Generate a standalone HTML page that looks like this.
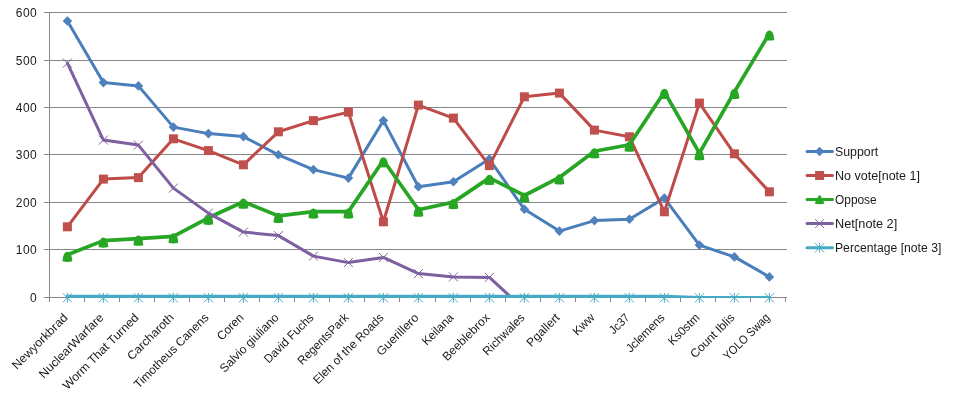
<!DOCTYPE html>
<html lang="en"><head><meta charset="utf-8"><title>Chart</title>
<style>html,body{margin:0;padding:0;background:#fff}svg{display:block}text{font-family:"Liberation Sans",sans-serif;font-size:12px;fill:#1a1a1a}</style>
</head><body>
<svg width="958" height="400" viewBox="0 0 958 400">
<rect width="958" height="400" fill="#fff"/>
<defs><clipPath id="plot"><rect x="49" y="0" width="745" height="297.5"/></clipPath>
<clipPath id="plot2"><rect x="49" y="0" width="745" height="298"/></clipPath>
<path id="dia" d="M0,-4.8L4.8,0L0,4.8L-4.8,0Z" fill="#4f81bd"/>
<rect id="sq" x="-4.5" y="-4.5" width="9" height="9" fill="#c0504d"/>
<path id="tri" d="M0,-3.1C3,-3.1 4.4,0.5 4.9,6.5Q0,7.7 -4.9,6.5C-4.4,0.5 -3,-3.1 0,-3.1Z" fill="#27a624"/>
<path id="tril" d="M0,-4.3C0.8,-4.3 1.2,-3.6 5,3.9Q0,5.2 -5,3.9C-1.2,-3.6 -0.8,-4.3 0,-4.3Z" fill="#27a624"/>
<path id="ex" d="M-4.5,-4.5L4.5,4.5M-4.5,4.5L4.5,-4.5" stroke="#8064a2" stroke-width="1" fill="none"/>
<path id="star" d="M-4.6,-4.6L4.6,4.6M-4.6,4.6L4.6,-4.6M0,-4.9L0,4.9" stroke="#4bacc6" stroke-width="1" fill="none"/>
</defs>
<g stroke="#868686" stroke-width="1" shape-rendering="crispEdges">
<line x1="44" y1="297.5" x2="787" y2="297.5"/>
<line x1="44" y1="249.5" x2="787" y2="249.5"/>
<line x1="44" y1="202.5" x2="787" y2="202.5"/>
<line x1="44" y1="154.5" x2="787" y2="154.5"/>
<line x1="44" y1="107.5" x2="787" y2="107.5"/>
<line x1="44" y1="60.5" x2="787" y2="60.5"/>
<line x1="44" y1="12.5" x2="787" y2="12.5"/>
<line x1="49.5" y1="12" x2="49.5" y2="302"/>
<line x1="84.5" y1="297" x2="84.5" y2="302"/>
<line x1="119.5" y1="297" x2="119.5" y2="302"/>
<line x1="154.5" y1="297" x2="154.5" y2="302"/>
<line x1="189.5" y1="297" x2="189.5" y2="302"/>
<line x1="224.5" y1="297" x2="224.5" y2="302"/>
<line x1="259.5" y1="297" x2="259.5" y2="302"/>
<line x1="294.5" y1="297" x2="294.5" y2="302"/>
<line x1="329.5" y1="297" x2="329.5" y2="302"/>
<line x1="364.5" y1="297" x2="364.5" y2="302"/>
<line x1="399.5" y1="297" x2="399.5" y2="302"/>
<line x1="435.5" y1="297" x2="435.5" y2="302"/>
<line x1="470.5" y1="297" x2="470.5" y2="302"/>
<line x1="505.5" y1="297" x2="505.5" y2="302"/>
<line x1="540.5" y1="297" x2="540.5" y2="302"/>
<line x1="575.5" y1="297" x2="575.5" y2="302"/>
<line x1="610.5" y1="297" x2="610.5" y2="302"/>
<line x1="645.5" y1="297" x2="645.5" y2="302"/>
<line x1="680.5" y1="297" x2="680.5" y2="302"/>
<line x1="715.5" y1="297" x2="715.5" y2="302"/>
<line x1="750.5" y1="297" x2="750.5" y2="302"/>
<line x1="785.5" y1="297" x2="785.5" y2="302"/>
</g>
<g text-anchor="end">
<text x="36.7" y="302.2" font-size="12.3">0</text>
<text x="36.7" y="254.2" font-size="12.3" textLength="20.9" lengthAdjust="spacing">100</text>
<text x="36.7" y="207.2" font-size="12.3" textLength="20.9" lengthAdjust="spacing">200</text>
<text x="36.7" y="159.2" font-size="12.3" textLength="20.9" lengthAdjust="spacing">300</text>
<text x="36.7" y="112.2" font-size="12.3" textLength="20.9" lengthAdjust="spacing">400</text>
<text x="36.7" y="65.2" font-size="12.3" textLength="20.9" lengthAdjust="spacing">500</text>
<text x="36.7" y="17.2" font-size="12.3" textLength="20.9" lengthAdjust="spacing">600</text>
</g>
<g><polyline points="67.4,21.0 103.4,82.6 138.4,85.9 173.4,127.1 208.4,133.6 243.4,136.6 278.4,154.8 313.4,169.6 348.4,178.1 383.4,120.6 418.4,186.8 453.4,181.8 489.4,159.1 524.4,209.3 559.4,231.1 594.4,220.6 629.4,219.3 664.4,198.1 699.4,245.1 734.4,256.9 769.4,276.9" fill="none" stroke="#4a7ebb" stroke-width="3" stroke-linejoin="round" stroke-linecap="round"/>
<use href="#dia" x="67.4" y="21.0"/>
<use href="#dia" x="103.4" y="82.6"/>
<use href="#dia" x="138.4" y="85.9"/>
<use href="#dia" x="173.4" y="127.1"/>
<use href="#dia" x="208.4" y="133.6"/>
<use href="#dia" x="243.4" y="136.6"/>
<use href="#dia" x="278.4" y="154.8"/>
<use href="#dia" x="313.4" y="169.6"/>
<use href="#dia" x="348.4" y="178.1"/>
<use href="#dia" x="383.4" y="120.6"/>
<use href="#dia" x="418.4" y="186.8"/>
<use href="#dia" x="453.4" y="181.8"/>
<use href="#dia" x="489.4" y="159.1"/>
<use href="#dia" x="524.4" y="209.3"/>
<use href="#dia" x="559.4" y="231.1"/>
<use href="#dia" x="594.4" y="220.6"/>
<use href="#dia" x="629.4" y="219.3"/>
<use href="#dia" x="664.4" y="198.1"/>
<use href="#dia" x="699.4" y="245.1"/>
<use href="#dia" x="734.4" y="256.9"/>
<use href="#dia" x="769.4" y="276.9"/>
</g>
<g><polyline points="67.4,226.8 103.4,179.1 138.4,177.6 173.4,138.8 208.4,150.6 243.4,164.8 278.4,131.8 313.4,120.6 348.4,112.1 383.4,221.8 418.4,105.1 453.4,118.1 489.4,165.6 524.4,96.8 559.4,93.1 594.4,130.1 629.4,136.8 664.4,211.8 699.4,103.1 734.4,153.8 769.4,191.8" fill="none" stroke="#be4b48" stroke-width="3" stroke-linejoin="round" stroke-linecap="round"/>
<use href="#sq" x="67.4" y="226.8"/>
<use href="#sq" x="103.4" y="179.1"/>
<use href="#sq" x="138.4" y="177.6"/>
<use href="#sq" x="173.4" y="138.8"/>
<use href="#sq" x="208.4" y="150.6"/>
<use href="#sq" x="243.4" y="164.8"/>
<use href="#sq" x="278.4" y="131.8"/>
<use href="#sq" x="313.4" y="120.6"/>
<use href="#sq" x="348.4" y="112.1"/>
<use href="#sq" x="383.4" y="221.8"/>
<use href="#sq" x="418.4" y="105.1"/>
<use href="#sq" x="453.4" y="118.1"/>
<use href="#sq" x="489.4" y="165.6"/>
<use href="#sq" x="524.4" y="96.8"/>
<use href="#sq" x="559.4" y="93.1"/>
<use href="#sq" x="594.4" y="130.1"/>
<use href="#sq" x="629.4" y="136.8"/>
<use href="#sq" x="664.4" y="211.8"/>
<use href="#sq" x="699.4" y="103.1"/>
<use href="#sq" x="734.4" y="153.8"/>
<use href="#sq" x="769.4" y="191.8"/>
</g>
<g><polyline points="67.4,254.8 103.4,240.6 138.4,238.7 173.4,236.3 208.4,217.8 243.4,201.7 278.4,215.9 313.4,211.6 348.4,211.6 383.4,160.3 418.4,209.7 453.4,202.1 489.4,177.9 524.4,195.5 559.4,177.4 594.4,151.3 629.4,144.7 664.4,91.9 699.4,153.2 734.4,91.9 769.4,33.5" fill="none" stroke="#27a624" stroke-width="3.7" stroke-linejoin="round" stroke-linecap="round"/>
<use href="#tri" x="67.4" y="254.8"/>
<use href="#tri" x="103.4" y="240.6"/>
<use href="#tri" x="138.4" y="238.7"/>
<use href="#tri" x="173.4" y="236.3"/>
<use href="#tri" x="208.4" y="217.8"/>
<use href="#tri" x="243.4" y="201.7"/>
<use href="#tri" x="278.4" y="215.9"/>
<use href="#tri" x="313.4" y="211.6"/>
<use href="#tri" x="348.4" y="211.6"/>
<use href="#tri" x="383.4" y="160.3"/>
<use href="#tri" x="418.4" y="209.7"/>
<use href="#tri" x="453.4" y="202.1"/>
<use href="#tri" x="489.4" y="177.9"/>
<use href="#tri" x="524.4" y="195.5"/>
<use href="#tri" x="559.4" y="177.4"/>
<use href="#tri" x="594.4" y="151.3"/>
<use href="#tri" x="629.4" y="144.7"/>
<use href="#tri" x="664.4" y="91.9"/>
<use href="#tri" x="699.4" y="153.2"/>
<use href="#tri" x="734.4" y="91.9"/>
<use href="#tri" x="769.4" y="33.5"/>
</g>
<g clip-path="url(#plot)"><polyline points="67.4,63.1 103.4,140.1 138.4,145.1 173.4,188.1 208.4,213.1 243.4,232.1 278.4,235.6 313.4,256.1 348.4,262.6 383.4,257.4 418.4,273.6 453.4,276.9 489.4,277.4 524.4,309.6" fill="none" stroke="#7d60a0" stroke-width="3" stroke-linejoin="round" stroke-linecap="round"/>
<use href="#ex" x="67.4" y="63.1"/>
<use href="#ex" x="103.4" y="140.1"/>
<use href="#ex" x="138.4" y="145.1"/>
<use href="#ex" x="173.4" y="188.1"/>
<use href="#ex" x="208.4" y="213.1"/>
<use href="#ex" x="243.4" y="232.1"/>
<use href="#ex" x="278.4" y="235.6"/>
<use href="#ex" x="313.4" y="256.1"/>
<use href="#ex" x="348.4" y="262.6"/>
<use href="#ex" x="383.4" y="257.4"/>
<use href="#ex" x="418.4" y="273.6"/>
<use href="#ex" x="453.4" y="276.9"/>
<use href="#ex" x="489.4" y="277.4"/>
</g>
<polyline clip-path="url(#plot2)" points="67.4,296.4 103.4,296.4 138.4,296.4 173.4,296.4 208.4,296.4 243.4,296.4 278.4,296.4 313.4,296.4 348.4,296.4 383.4,296.4 418.4,296.4 453.4,296.4 489.4,296.4 524.4,296.4 559.4,296.4 594.4,296.4 629.4,296.4 664.4,296.4 699.4,297.8 734.4,297.8 769.4,297.8" fill="none" stroke="#46aac5" stroke-width="3.4" stroke-linejoin="round" stroke-linecap="round"/>
<use href="#star" x="67.4" y="297.8"/>
<use href="#star" x="103.4" y="297.8"/>
<use href="#star" x="138.4" y="297.8"/>
<use href="#star" x="173.4" y="297.8"/>
<use href="#star" x="208.4" y="297.8"/>
<use href="#star" x="243.4" y="297.8"/>
<use href="#star" x="278.4" y="297.8"/>
<use href="#star" x="313.4" y="297.8"/>
<use href="#star" x="348.4" y="297.8"/>
<use href="#star" x="383.4" y="297.8"/>
<use href="#star" x="418.4" y="297.8"/>
<use href="#star" x="453.4" y="297.8"/>
<use href="#star" x="489.4" y="297.8"/>
<use href="#star" x="524.4" y="297.8"/>
<use href="#star" x="559.4" y="297.8"/>
<use href="#star" x="594.4" y="297.8"/>
<use href="#star" x="629.4" y="297.8"/>
<use href="#star" x="664.4" y="297.8"/>
<use href="#star" x="699.4" y="297.8"/>
<use href="#star" x="734.4" y="297.8"/>
<use href="#star" x="769.4" y="297.8"/>
<text text-anchor="end" textLength="73.2" lengthAdjust="spacingAndGlyphs" transform="translate(68.4,318.3) rotate(-45)">Newyorkbrad</text>
<text text-anchor="end" textLength="85.7" lengthAdjust="spacingAndGlyphs" transform="translate(104.4,318.3) rotate(-45)">NuclearWarfare</text>
<text text-anchor="end" textLength="101.8" lengthAdjust="spacingAndGlyphs" transform="translate(139.4,318.3) rotate(-45)">Worm That Turned</text>
<text text-anchor="end" textLength="59.9" lengthAdjust="spacingAndGlyphs" transform="translate(174.4,318.3) rotate(-45)">Carcharoth</text>
<text text-anchor="end" textLength="99.9" lengthAdjust="spacingAndGlyphs" transform="translate(209.4,318.3) rotate(-45)">Timotheus Canens</text>
<text text-anchor="end" textLength="32.2" lengthAdjust="spacingAndGlyphs" transform="translate(244.4,318.3) rotate(-45)">Coren</text>
<text text-anchor="end" textLength="77.6" lengthAdjust="spacingAndGlyphs" transform="translate(279.4,318.3) rotate(-45)">Salvio giuliano</text>
<text text-anchor="end" textLength="64.4" lengthAdjust="spacingAndGlyphs" transform="translate(314.4,318.3) rotate(-45)">David Fuchs</text>
<text text-anchor="end" textLength="66.7" lengthAdjust="spacingAndGlyphs" transform="translate(349.4,318.3) rotate(-45)">RegentsPark</text>
<text text-anchor="end" textLength="94.0" lengthAdjust="spacingAndGlyphs" transform="translate(384.4,318.3) rotate(-45)">Elen of the Roads</text>
<text text-anchor="end" textLength="54.0" lengthAdjust="spacingAndGlyphs" transform="translate(419.4,318.3) rotate(-45)">Guerillero</text>
<text text-anchor="end" textLength="39.2" lengthAdjust="spacingAndGlyphs" transform="translate(454.4,318.3) rotate(-45)">Keilana</text>
<text text-anchor="end" textLength="61.2" lengthAdjust="spacingAndGlyphs" transform="translate(490.4,318.3) rotate(-45)">Beeblebrox</text>
<text text-anchor="end" textLength="53.5" lengthAdjust="spacingAndGlyphs" transform="translate(525.4,318.3) rotate(-45)">Richwales</text>
<text text-anchor="end" textLength="41.2" lengthAdjust="spacingAndGlyphs" transform="translate(560.4,318.3) rotate(-45)">Pgallert</text>
<text text-anchor="end" textLength="25.4" lengthAdjust="spacingAndGlyphs" transform="translate(595.4,318.3) rotate(-45)">Kww</text>
<text text-anchor="end" textLength="23.4" lengthAdjust="spacingAndGlyphs" transform="translate(630.4,318.3) rotate(-45)">Jc37</text>
<text text-anchor="end" textLength="49.1" lengthAdjust="spacingAndGlyphs" transform="translate(665.4,318.3) rotate(-45)">Jclemens</text>
<text text-anchor="end" textLength="39.0" lengthAdjust="spacingAndGlyphs" transform="translate(700.4,318.3) rotate(-45)">Ks0stm</text>
<text text-anchor="end" textLength="57.2" lengthAdjust="spacingAndGlyphs" transform="translate(735.4,318.3) rotate(-45)">Count Iblis</text>
<text text-anchor="end" textLength="60.1" lengthAdjust="spacingAndGlyphs" transform="translate(770.4,318.3) rotate(-45)">YOLO Swag</text>
<line x1="807" y1="151.5" x2="832.5" y2="151.5" stroke="#4a7ebb" stroke-width="3" stroke-linecap="round"/>
<use href="#dia" x="819.6" y="151.5"/>
<text x="835" y="155.8" textLength="43.3" lengthAdjust="spacingAndGlyphs">Support</text>
<line x1="807" y1="175.5" x2="832.5" y2="175.5" stroke="#be4b48" stroke-width="3" stroke-linecap="round"/>
<use href="#sq" x="819.6" y="175.5"/>
<text x="835" y="179.8" textLength="85.0" lengthAdjust="spacingAndGlyphs">No vote[note 1]</text>
<line x1="807" y1="199.6" x2="832.5" y2="199.6" stroke="#27a624" stroke-width="3" stroke-linecap="round"/>
<use href="#tril" x="819.6" y="199.6"/>
<text x="835" y="203.9" textLength="41.7" lengthAdjust="spacingAndGlyphs">Oppose</text>
<line x1="807" y1="223.6" x2="832.5" y2="223.6" stroke="#7d60a0" stroke-width="3" stroke-linecap="round"/>
<use href="#ex" x="819.6" y="223.6"/>
<text x="835" y="227.9" textLength="62.2" lengthAdjust="spacingAndGlyphs">Net[note 2]</text>
<line x1="807" y1="247.7" x2="832.5" y2="247.7" stroke="#46aac5" stroke-width="3" stroke-linecap="round"/>
<use href="#star" x="819.6" y="247.7"/>
<text x="835" y="252.0" textLength="106.3" lengthAdjust="spacingAndGlyphs">Percentage [note 3]</text>
</svg>
</body></html>
